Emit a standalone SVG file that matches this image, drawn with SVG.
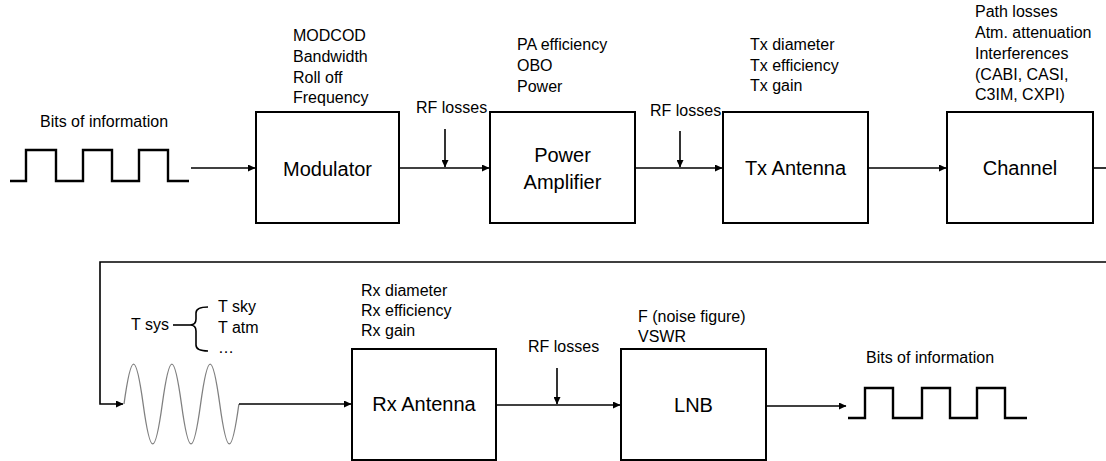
<svg xmlns="http://www.w3.org/2000/svg" width="1106" height="461" viewBox="0 0 1106 461">
<style>
text{font-family:"Liberation Sans",Arial,sans-serif;fill:#000}
.lbl{font-size:16px}
.main{font-size:20px;text-anchor:middle}
.box{fill:#fff;stroke:#000;stroke-width:2}
.con{fill:none;stroke:#000;stroke-width:1.6}
.wave{fill:none;stroke:#000;stroke-width:2.4}
.sine{fill:none;stroke:#808080;stroke-width:1.3}
</style>
<defs>
<marker id="arr" markerWidth="8" markerHeight="7" refX="7" refY="3.5" orient="auto" markerUnits="userSpaceOnUse">
<path d="M0,0 L7.5,3.5 L0,7 z" fill="#000"/>
</marker>
</defs>
<rect width="1106" height="461" fill="#fff"/>

<g id="bits-in">
<text class="lbl" x="40" y="127">Bits of information</text>
<path class="wave" d="M10,181 H26 V150 H56 V181 H83 V150 H112 V181 H139 V150 H168 V181 H189"/>
</g>

<g id="modulator">
<rect class="box" x="256" y="112" width="143" height="111"/>
<text class="main" x="327.5" y="176">Modulator</text>
<text class="lbl" x="293" y="41">MODCOD</text>
<text class="lbl" x="293" y="62">Bandwidth</text>
<text class="lbl" x="293" y="82.5">Roll off</text>
<text class="lbl" x="293" y="103">Frequency</text>
</g>

<g id="power-amplifier">
<rect class="box" x="490" y="112" width="145" height="111"/>
<text class="main" x="562.5" y="162">Power</text>
<text class="main" x="562.5" y="189">Amplifier</text>
<text class="lbl" x="517" y="50">PA efficiency</text>
<text class="lbl" x="517" y="71">OBO</text>
<text class="lbl" x="517" y="92">Power</text>
</g>

<g id="tx-antenna">
<rect class="box" x="723" y="112" width="145" height="111"/>
<text class="main" x="795.5" y="175">Tx Antenna</text>
<text class="lbl" x="750" y="50">Tx diameter</text>
<text class="lbl" x="750" y="71">Tx efficiency</text>
<text class="lbl" x="750" y="91">Tx gain</text>
</g>

<g id="channel">
<rect class="box" x="947" y="112" width="146" height="111"/>
<text class="main" x="1020" y="175">Channel</text>
<text class="lbl" x="975" y="17">Path losses</text>
<text class="lbl" x="975" y="38">Atm. attenuation</text>
<text class="lbl" x="975" y="59">Interferences</text>
<text class="lbl" x="975" y="80">(CABI, CASI,</text>
<text class="lbl" x="975" y="100">C3IM, CXPI)</text>
</g>

<g id="tsys">
<text class="lbl" x="131" y="330">T sys</text>
<path class="con" d="M173,325 H190"/>
<path class="con" d="M208,307 Q196,307 196,313 V319 Q196,325 190,325 Q196,325 196,331 V345 Q196,351 208,351"/>
<text class="lbl" x="218" y="312">T sky</text>
<text class="lbl" x="218" y="333">T atm</text>
<text class="lbl" x="218" y="353">…</text>
</g>

<g id="sine-signal">
<path class="sine" d="M124,404 c7.3,-53.3 11.85,-53.3 19.15,0 c7.3,53.3 11.85,53.3 19.15,0 c7.3,-53.3 11.85,-53.3 19.15,0 c7.3,53.3 11.85,53.3 19.15,0 c7.3,-53.3 11.85,-53.3 19.15,0 c7.3,53.3 11.85,53.3 19.15,0"/>
</g>

<g id="rx-antenna">
<rect class="box" x="352" y="349" width="144" height="111"/>
<text class="main" x="424" y="411">Rx Antenna</text>
<text class="lbl" x="361" y="296">Rx diameter</text>
<text class="lbl" x="361" y="316">Rx efficiency</text>
<text class="lbl" x="361" y="336">Rx gain</text>
</g>

<g id="lnb">
<rect class="box" x="621" y="349" width="145" height="111"/>
<text class="main" x="693.5" y="412">LNB</text>
<text class="lbl" x="638" y="322">F (noise figure)</text>
<text class="lbl" x="638" y="342">VSWR</text>
</g>

<g id="bits-out">
<text class="lbl" x="866" y="363">Bits of information</text>
<path class="wave" d="M848,418 H865 V388 H893 V418 H922 V388 H950 V418 H977 V388 H1005 V418 H1027"/>
</g>

<g id="rf-losses">
<text class="lbl" x="416" y="113">RF losses</text>
<text class="lbl" x="650" y="116">RF losses</text>
<text class="lbl" x="528" y="352">RF losses</text>
</g>

<g id="connectors">
<path class="con" d="M191,168 H255" marker-end="url(#arr)"/>
<path class="con" d="M399,168 H489" marker-end="url(#arr)"/>
<path class="con" d="M445,129 V167" marker-end="url(#arr)"/>
<path class="con" d="M635,168 H722" marker-end="url(#arr)"/>
<path class="con" d="M680,131 V167" marker-end="url(#arr)"/>
<path class="con" d="M868,168 H946" marker-end="url(#arr)"/>
<path class="con" d="M1093,168 H1106"/>
<path class="con" d="M1106,262 H100 V404 H123" marker-end="url(#arr)"/>
<path class="con" d="M239,404 H351" marker-end="url(#arr)"/>
<path class="con" d="M496,405 H620" marker-end="url(#arr)"/>
<path class="con" d="M557,368 V404" marker-end="url(#arr)"/>
<path class="con" d="M766,406 H846" marker-end="url(#arr)"/>
</g>
</svg>
